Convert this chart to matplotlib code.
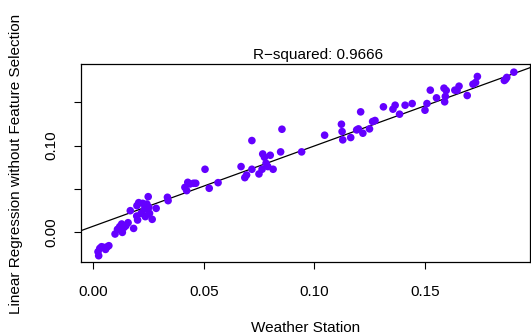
import matplotlib
matplotlib.use("Agg")
import matplotlib.pyplot as plt
import numpy as np

plt.rcParams['font.family'] = ['Liberation Sans', 'DejaVu Sans']

# Data
weather_station = [
    0.0024, 0.0021, 0.0029, 0.0037, 0.0047, 0.0055, 0.0063, 0.0070,
    0.0098, 0.0109, 0.0119, 0.0128, 0.0131, 0.0139, 0.0147, 0.0157,
    0.0167, 0.0182, 0.0196, 0.0200, 0.0197, 0.0205, 0.0216, 0.0223,
    0.0231, 0.0235, 0.0242, 0.0248, 0.0251, 0.0254, 0.0266, 0.0284,
    0.0335, 0.0338, 0.0414, 0.0422, 0.0427, 0.0437, 0.0453, 0.0463,
    0.0505, 0.0524, 0.0564, 0.0668, 0.0685, 0.0693, 0.0717, 0.0717,
    0.0749, 0.0763, 0.0766, 0.0774, 0.0781, 0.0789, 0.0800, 0.0813,
    0.0847, 0.0853, 0.0942, 0.1046, 0.1122, 0.1125, 0.1128, 0.1164,
    0.1191, 0.1199, 0.1219, 0.1249, 0.1263, 0.1274, 0.1209, 0.1312,
    0.1355, 0.1365, 0.1385, 0.1410, 0.1442, 0.1500, 0.1509, 0.1524,
    0.1552, 0.1586, 0.1589, 0.1592, 0.1596, 0.1635, 0.1645, 0.1654,
    0.1691, 0.1717, 0.1729, 0.1737, 0.1859, 0.1865, 0.1870, 0.1902,
]
linreg_no_fs = [
    -0.0274, -0.0228, -0.0189, -0.0170, -0.0178, -0.0201, -0.0170, -0.0158,
    -0.0023, 0.0031, 0.0062, 0.0093, -0.0004, 0.0054, 0.0073, 0.0108,
    0.0247, 0.0042, 0.0185, 0.0139, 0.0305, 0.0340, 0.0216, 0.0332,
    0.0263, 0.0178, 0.0324, 0.0409, 0.0286, 0.0216, 0.0147, 0.0274,
    0.0402, 0.0363, 0.0517, 0.0479, 0.0575, 0.0556, 0.0564, 0.0564,
    0.0726, 0.0506, 0.0571, 0.0757, 0.0629, 0.0660, 0.0726, 0.1058,
    0.0672, 0.0726, 0.0903, 0.0865, 0.0795, 0.0757, 0.0888, 0.0726,
    0.0927, 0.1189, 0.0927, 0.1120, 0.1247, 0.1162, 0.1066, 0.1093,
    0.1181, 0.1193, 0.1143, 0.1193, 0.1278, 0.1290, 0.1390, 0.1448,
    0.1421, 0.1467, 0.1363, 0.1467, 0.1486, 0.1409, 0.1486, 0.1641,
    0.1552, 0.1664, 0.1506, 0.1568, 0.1637, 0.1641, 0.1637, 0.1687,
    0.1579, 0.1710, 0.1730, 0.1799, 0.1753, 0.1768, 0.1788, 0.1849,
]
fit_intercept = 0.0068
fit_slope = 0.928
title_text = "R\u2212squared: 0.9666"
x_label = "Weather Station"
y_label = "Linear Regression without Feature Selection"
x_ticks = [0.00, 0.05, 0.10, 0.15]
x_ticklabels = ["0.00", "0.05", "0.10", "0.15"]
y_ticks = [0.00, 0.05, 0.10, 0.15]
y_ticklabels = ["0.00", "", "0.10", ""]

W, H = 531, 334
fig = plt.figure(figsize=(W / 100, H / 100), dpi=100)
fig.patch.set_facecolor('white')

ax = fig.add_axes([81 / W, 1 - 262.3 / H, (530 - 81) / W, (262.3 - 64.3) / H])

ax.scatter(weather_station, linreg_no_fs, s=30, color='#6400FF',
           edgecolors='none', zorder=3)

xlim = (-0.0056, 0.1975)
ylim = (-0.0350, 0.1940)
xs = np.array(xlim)
ax.plot(xs, fit_intercept + fit_slope * xs, color='black', linewidth=0.9, zorder=2)
ax.set_xlim(*xlim)
ax.set_ylim(*ylim)

ax.set_xticks(x_ticks)
ax.set_xticklabels(x_ticklabels)
ax.set_yticks(y_ticks)
ax.set_yticklabels(y_ticklabels, rotation=90, va='center')
ax.tick_params(axis='both', direction='out', length=5, width=0.8,
               labelsize=11, colors='black')
ax.tick_params(axis='x', pad=11)
ax.tick_params(axis='y', pad=11)
for sp in ax.spines.values():
    sp.set_linewidth(0.9)
    sp.set_color('black')

fig.text(318 / W, 1 - 55 / H, title_text, fontsize=11, ha='center', va='center')
fig.text(306 / W, 1 - 320.5 / H, x_label, fontsize=11, ha='center', va='top')
fig.text(16 / W, 1 - 164 / H, y_label, fontsize=11, ha='center', va='center',
         rotation=90)

fig.savefig("out.png", dpi=100)
